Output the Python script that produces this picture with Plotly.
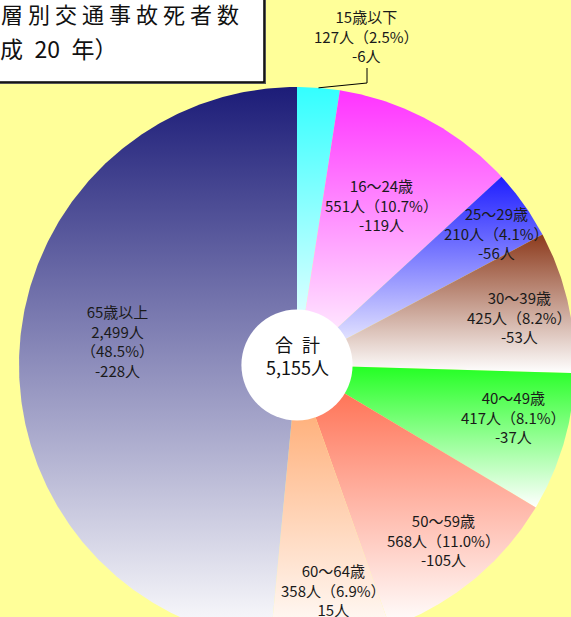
import math
import plotly.graph_objects as go

# 年齢層別交通事故死者数（平成20年）
age_groups = ["15歳以下", "16～24歳", "25～29歳", "30～39歳",
              "40～49歳", "50～59歳", "60～64歳", "65歳以上"]
deaths = [127, 551, 210, 425, 417, 568, 358, 2499]
change_from_prev = [-6, -119, -56, -53, -37, -105, 15, -228]

slice_colors = ["#33ffff", "#ff33ff", "#1e1eff", "#8c3a1c",
                "#22ff22", "#ff6444", "#ffa060", "#1c1c78"]

title_lines = ["年齢層別交通事故死者数", "（平成\u200220\u2002年）"]
total_caption = "合\u2002計"

# label placement: fraction of the radius and a small angular nudge (deg)
label_radius = [None, 0.65, 0.86, 0.82, 0.80, 0.82, 0.82, 0.65]
label_nudge = [0, -0.4, 1.9, 1.0, -2.7, -0.6, -2.3, 4.9]

W, H = 571, 617
CX, CY, R = 297, 365, 278      # pie centre and radius in pixels
HOLE = 0.2

LABEL_FONT = "Noto Sans CJK JP, sans-serif"
TITLE_FONT = "Noto Sans CJK JP, sans-serif"

total = sum(deaths)


def polar(r, deg):
    a = math.radians(deg)
    return r * math.sin(a), r * math.cos(a)


fig = go.Figure()

# wedges, clockwise from 12 o'clock, each with a vertical colour→white fill
cum = 0
mids = []
for name, v, col in zip(age_groups, deaths, slice_colors):
    a0 = cum / total * 360
    cum += v
    a1 = cum / total * 360
    mids.append((a0 + a1) / 2)
    n = max(6, int((a1 - a0) * 2))
    xs, ys = [0.0], [0.0]
    for i in range(n + 1):
        x, y = polar(1.0, a0 + (a1 - a0) * i / n)
        xs.append(x)
        ys.append(y)
    xs.append(0.0)
    ys.append(0.0)
    fig.add_trace(go.Scatter(
        x=xs, y=ys, mode="lines", fill="toself",
        line=dict(width=0, color=col),
        fillgradient=dict(type="vertical",
                          colorscale=[[0, "#ffffff"], [1, col]]),
        hoverinfo="skip", showlegend=False, name=name,
    ))


def label_text(i):
    v = deaths[i]
    pct = v / total * 100
    chg = f"{change_from_prev[i]}人"
    if i == len(deaths) - 1:
        return f"{age_groups[i]}<br>{v:,}人<br>（{pct:.1f}%）<br>{chg}"
    return f"{age_groups[i]}<br>{v:,}人（{pct:.1f}%）<br>{chg}"


label_font = dict(family=LABEL_FONT, size=15, color="#1a1a1a")
annotations = []
for i in range(len(deaths)):
    if label_radius[i] is None:
        continue
    x, y = polar(label_radius[i], mids[i] + label_nudge[i])
    annotations.append(dict(
        x=x, y=y, xref="x", yref="y", text=label_text(i), showarrow=False,
        font=label_font, align="center",
    ))

# smallest slice: label outside with an elbow leader line
sx, sy = polar(1.0, mids[0])
ex, ey = (367 - CX) / R, (CY - 83) / R
tx, ty = ex, (CY - 68) / R
fig.add_trace(go.Scatter(x=[sx, ex, tx], y=[sy, ey, ty], mode="lines",
                         line=dict(color="#000000", width=1),
                         hoverinfo="skip", showlegend=False))
annotations.append(dict(
    x=(366 - CX) / R, y=(CY - 36) / R, xref="x", yref="y",
    text=label_text(0), showarrow=False, font=label_font, align="center",
))

# total in the centre
annotations.append(dict(
    x=0.0, y=10 / R, xref="x", yref="y",
    text=f"{total_caption}<br>{total:,}人", showarrow=False,
    font=dict(family=LABEL_FONT, size=18, color="#111111"), align="center",
))

# title box text
annotations.append(dict(
    x=-55 / W, y=1 - 13 / H, xref="paper", yref="paper",
    xanchor="left", yanchor="middle", showarrow=False,
    text=f'<span style="letter-spacing:5px">{title_lines[0]}</span>',
    font=dict(family=TITLE_FONT, size=22, color="#111111"),
))
annotations.append(dict(
    x=-48 / W, y=1 - 48 / H, xref="paper", yref="paper",
    xanchor="left", yanchor="middle", showarrow=False,
    text=title_lines[1],
    font=dict(family=TITLE_FONT, size=23, color="#111111"),
))

shapes = [
    dict(type="rect", xref="paper", yref="paper",
         x0=-20 / W, x1=266 / W, y0=1 - 84 / H, y1=1 + 20 / H,
         fillcolor="#555555", line=dict(width=0), layer="above"),
    dict(type="rect", xref="paper", yref="paper",
         x0=-20 / W, x1=264 / W, y0=1 - 82 / H, y1=1 + 20 / H,
         fillcolor="#ffffff", line=dict(color="#000000", width=1.5),
         layer="above"),
    dict(type="circle", xref="x", yref="y",
         x0=-HOLE, x1=HOLE, y0=-HOLE, y1=HOLE,
         fillcolor="#ffffff", line=dict(width=0), layer="above"),
]

fig.update_layout(
    width=W, height=H,
    margin=dict(l=0, r=0, t=0, b=0),
    paper_bgcolor="#ffff99", plot_bgcolor="#ffff99",
    xaxis=dict(range=[-CX / R, (W - CX) / R], visible=False, fixedrange=True),
    yaxis=dict(range=[(CY - H) / R, CY / R], visible=False, fixedrange=True),
    annotations=annotations, shapes=shapes, showlegend=False,
)

fig.write_html("out.html")
